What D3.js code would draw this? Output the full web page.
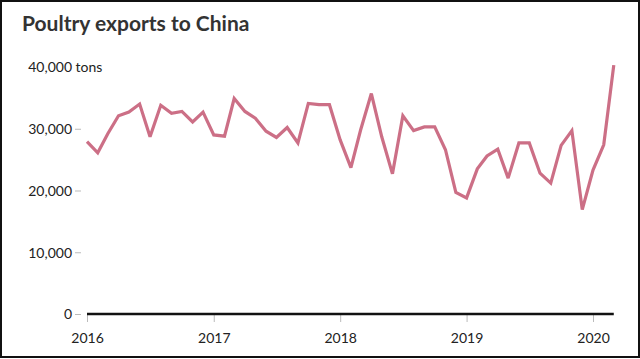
<!DOCTYPE html>
<html>
<head>
<meta charset="utf-8">
<script src="https://cdn.jsdelivr.net/npm/d3@7"></script>
<style>
  html, body { margin: 0; padding: 0; background: #fff; }
  svg { display: block; }
  text { font-family: "Source Sans Pro", Lato, "Open Sans", sans-serif; }
</style>
</head>
<body>
<svg id="chart" width="640" height="359"></svg>
<script>
// Monthly poultry exports to China (tons), Jan 2016 - Mar 2020
const startMonth = "2016-01";
const values = [
  27900, 26100, 29200, 32100, 32700, 34000, 28700, 33800, 32500, 32800, 31100, 32700,
  29000, 28800, 34900, 32800, 31700, 29600, 28600, 30200, 27700, 34100, 33900, 33900,
  28200, 23700, 29800, 35700, 28700, 22700, 32100, 29700, 30300, 30300, 26600, 19700,
  18800, 23500, 25600, 26700, 22000, 27700, 27700, 22800, 21200, 27300, 29700, 16900,
  23300, 27400, 40300
];
const yTicks = [0, 10000, 20000, 30000, 40000];
const xTickYears = [2016, 2017, 2018, 2019, 2020];
const titleText = "Poultry exports to China";
const unitText = "tons";

const svg = d3.select("#chart");
const W = 640, H = 359;

// border
svg.append("rect").attr("x", 1).attr("y", 1).attr("width", W - 2).attr("height", H - 3)
  .attr("fill", "#fff").attr("stroke", "#111").attr("stroke-width", 2);

// title
svg.append("text").attr("x", 22).attr("y", 31)
  .attr("font-size", 21).attr("font-weight", 700).attr("fill", "#333")
  .text(titleText);

const parse = d3.timeParse("%Y-%m");
const t0 = parse(startMonth);
const data = values.map((v, i) => ({ date: d3.timeMonth.offset(t0, i), value: v }));

const x = d3.scaleTime()
  .domain([new Date(2016, 0, 1), new Date(2020, 0, 1)])
  .range([87, 593]);
const y = d3.scaleLinear().domain([0, 40000]).range([314, 67]);

// y axis
const yAxis = d3.axisLeft(y).tickValues(yTicks).tickSize(6).tickPadding(3)
  .tickFormat(d3.format(","));
const gy = svg.append("g").attr("transform", "translate(81,0)").call(yAxis);
gy.select(".domain").remove();
gy.selectAll(".tick line").attr("stroke", "#bbb");
gy.selectAll(".tick text").attr("font-size", 14).attr("fill", "#222")
  .attr("dy", "0.35em");
gy.selectAll(".tick").filter(d => d === 40000).each(function() {
  const t = d3.select(this).select("text");
  t.append("tspan").text(" " + unitText);
  // keep "40,000" right-aligned with the other labels, let "tons" extend right
  t.attr("text-anchor", "start");
  const tmp = d3.select(this).append("text").attr("font-size", 14).text(d3.format(",")(40000));
  const w = tmp.node().getComputedTextLength();
  tmp.remove();
  t.attr("x", -9 - w);
  d3.select(this).select("line").remove();
});

// x axis
const xAxis = d3.axisBottom(x)
  .tickValues(xTickYears.map(yr => new Date(yr, 0, 1)))
  .tickSize(8).tickPadding(11)
  .tickFormat(d3.timeFormat("%Y"));
const gx = svg.append("g").attr("transform", "translate(0,314)").call(xAxis);
gx.select(".domain").remove();
gx.selectAll(".tick line").attr("stroke", "#bbb");
gx.selectAll(".tick text").attr("font-size", 14).attr("fill", "#222");

// baseline
svg.append("line")
  .attr("x1", x(data[0].date)).attr("x2", x(data[data.length - 1].date))
  .attr("y1", y(0)).attr("y2", y(0))
  .attr("stroke", "#111").attr("stroke-width", 2.5);

// line
const line = d3.line().x(d => x(d.date)).y(d => y(d.value));
svg.append("path").datum(data)
  .attr("d", line)
  .attr("fill", "none")
  .attr("stroke", "#cc6f86")
  .attr("stroke-width", 3.2)
  .attr("stroke-linejoin", "miter")
  .attr("stroke-miterlimit", 3);
</script>
</body>
</html>
